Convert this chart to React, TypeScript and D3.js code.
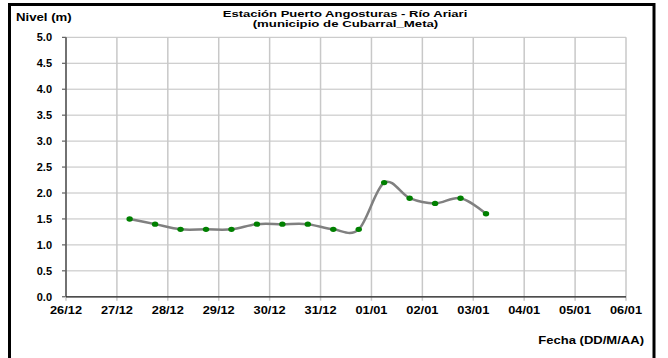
import React from "react";
import * as d3 from "d3";

const fechas: string[] = [
  "2011-12-27T06:00", "2011-12-27T18:00", "2011-12-28T06:00", "2011-12-28T18:00",
  "2011-12-29T06:00", "2011-12-29T18:00", "2011-12-30T06:00", "2011-12-30T18:00",
  "2011-12-31T06:00", "2011-12-31T18:00", "2012-01-01T06:00", "2012-01-01T18:00",
  "2012-01-02T06:00", "2012-01-02T18:00", "2012-01-03T06:00",
];
const niveles: number[] = [1.5, 1.4, 1.3, 1.3, 1.3, 1.4, 1.4, 1.4, 1.3, 1.3, 2.2, 1.9, 1.8, 1.9, 1.6];
const xDomain: string[] = ["2011-12-26T00:00", "2012-01-06T00:00"];
const yTicks: number[] = [0, 0.5, 1, 1.5, 2, 2.5, 3, 3.5, 4, 4.5, 5];
const titulo1 = "Estación Puerto Angosturas - Río Ariari";
const titulo2 = "(municipio de Cubarral_Meta)";
const yTitulo = "Nivel (m)";
const xTitulo = "Fecha (DD/M/AA)";

const parse = (s: string) => new Date(s + ":00Z");

export default function App() {
  const W = 668, H = 358;
  const left = 66, right = 626, top = 37.3, bottom = 296.8;
  const x = d3.scaleUtc().domain(xDomain.map(parse)).range([left, right]);
  const y = d3.scaleLinear().domain([0, 5]).range([bottom, top]);
  const xTicks = d3.utcDay.range(parse(xDomain[0]), d3.utcDay.offset(parse(xDomain[1]), 1));
  const fmtX = d3.utcFormat("%d/%m");
  const fmtY = d3.format(".1f");
  const data = fechas.map((f, i) => ({ t: parse(f), v: niveles[i] }));
  const line = d3.line<{ t: Date; v: number }>()
    .x((d) => x(d.t))
    .y((d) => y(d.v))
    .curve(d3.curveCardinal.tension(0));
  const font = "'Liberation Sans', Arial, sans-serif";

  return (
    <svg width={W} height={H} style={{ position: "absolute", left: 0, top: 0, background: "#fff" }}
      fontFamily={font} fontWeight="bold">
      <rect x={9.5} y={4.5} width={644.5} height={400} fill="#fff" stroke="#000" strokeWidth={3} />
      {/* horizontal grid */}
      {yTicks.map((t) => (
        <g key={"y" + t}>
          <line x1={left} x2={right} y1={y(t)} y2={y(t)} stroke="#c0c0c0" strokeWidth={1} />
          <line x1={left - 4} x2={left} y1={y(t)} y2={y(t)} stroke="#404040" strokeWidth={1} />
          <text x={52} y={y(t) + 4} textAnchor="end" fontSize={11} fill="#000">{fmtY(t)}</text>
        </g>
      ))}
      {/* vertical grid */}
      {xTicks.map((t, i) => (
        <g key={"x" + i}>
          <line x1={x(t)} x2={x(t)} y1={top} y2={bottom + 4} stroke="#c8c8c8" strokeWidth={1.5} />
          <text x={x(t)} y={314} textAnchor="middle" fontSize={11} fill="#000"
            textLength={32} lengthAdjust="spacingAndGlyphs">{fmtX(t)}</text>
        </g>
      ))}
      <line x1={left} x2={left} y1={top} y2={bottom} stroke="#303030" strokeWidth={1.2} />
      <line x1={left} x2={right} y1={bottom} y2={bottom} stroke="#202020" strokeWidth={1.2} />
      <path d={line(data) || ""} fill="none" stroke="#808080" strokeWidth={2.5} />
      {data.map((d, i) => (
        <ellipse key={i} cx={x(d.t)} cy={y(d.v)} rx={3.2} ry={2.7} fill="#008000" />
      ))}
      <text x={345} y={16.6} textAnchor="middle" fontSize={9.5} textLength={244.6}
        lengthAdjust="spacingAndGlyphs">{titulo1}</text>
      <text x={345.5} y={27.4} textAnchor="middle" fontSize={9.5} textLength={185.6}
        lengthAdjust="spacingAndGlyphs">{titulo2}</text>
      <text x={16} y={20.5} fontSize={11} textLength={55.7} lengthAdjust="spacingAndGlyphs">{yTitulo}</text>
      <text x={538.3} y={344} fontSize={11} textLength={105.7} lengthAdjust="spacingAndGlyphs">{xTitulo}</text>
    </svg>
  );
}
